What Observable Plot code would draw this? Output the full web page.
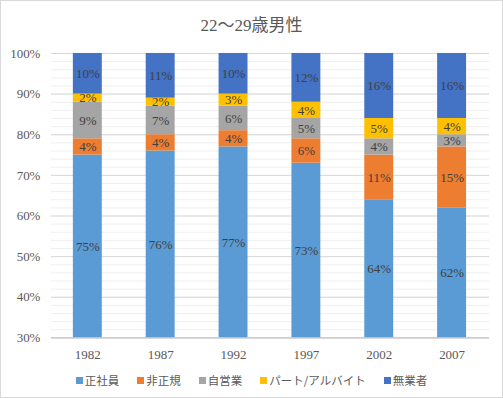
<!DOCTYPE html>
<html><head><meta charset="utf-8">
<script src="https://cdn.jsdelivr.net/npm/d3@7"></script>
<script src="https://cdn.jsdelivr.net/npm/@observablehq/plot@0.6"></script>
<style>
html,body{margin:0;padding:0;background:#fff;}
#frame{position:relative;width:501px;height:396px;border:1px solid #d9d9d9;background:#fff;overflow:hidden;}
#title{position:absolute;left:0;top:10px;width:501px;text-align:center;font-family:"Liberation Serif","Noto Sans CJK JP",serif;font-size:17px;color:#595959;}
#chart{position:absolute;left:-1px;top:39px;}
#legend{position:absolute;left:0;top:371px;width:501px;display:flex;justify-content:center;gap:18px;font-family:"Noto Sans CJK JP",sans-serif;font-size:11.5px;color:#595959;}
#legend span.item{display:flex;align-items:center;gap:2px;}
#legend span.sw{display:inline-block;width:7px;height:7px;}
</style></head>
<body><div id="frame"><div id="title">22〜29歳男性</div><div id="chart"></div><div id="legend"></div></div>
<script>
const years = ["1982","1987","1992","1997","2002","2007"];
const categories = ["正社員","非正規","自営業","パート/アルバイト","無業者"];
const seishain = [75,76,77,73,64,62];
const hiseiki  = [4,4,4,6,11,15];
const jieigyo  = [9,7,6,5,4,3];
const part     = [2,2,3,4,5,4];
const mugyo    = [10,11,10,12,16,16];
const yTicks = [30,40,50,60,70,80,90,100];
const colors = ["#5B9BD5","#ED7D31","#A5A5A5","#FFC000","#4472C4"];

const series = [seishain, hiseiki, jieigyo, part, mugyo];
const rows = [];
years.forEach((yr, i) => {
  let acc = 0;
  series.forEach((s, k) => {
    const y1 = acc, y2 = acc + s[i];
    acc = y2;
    rows.push({year: yr, cat: categories[k], v: s[i], y1, y2, ym: (Math.max(y1, 30) + y2) / 2});
  });
});
const minor = d3.range(30, 101, 2);

const chart = Plot.plot({
  width: 503, height: 326,
  marginTop: 13, marginBottom: 28, marginLeft: 51, marginRight: 13,
  style: {fontFamily: '"Liberation Serif","Noto Sans CJK JP",serif', fontSize: "13px", color: "#595959", background: "transparent"},
  x: {domain: years, paddingInner: 0.6, paddingOuter: 0.3, label: null},
  y: {domain: [30, 100], label: null},
  color: {domain: categories, range: colors},
  marks: [
    Plot.gridY(minor, {stroke: "#efefef", strokeOpacity: 1}),
    Plot.gridY(yTicks, {stroke: "#d9d9d9", strokeOpacity: 1}),
    Plot.barY(rows, {x: "year", y1: d => Math.max(d.y1, 30), y2: "y2", fill: "cat"}),
    Plot.ruleY([30], {stroke: "#bfbfbf"}),
    Plot.text(rows, {x: "year", y: "ym", text: d => d.v + "%", fill: "#404040", fontSize: 13}),
    Plot.axisY(yTicks, {tickSize: 0, tickPadding: 11, tickFormat: d => d + "%", fill: "#595959", fontSize: 13}),
    Plot.axisX({tickSize: 0, tickPadding: 12, fill: "#595959", fontSize: 13})
  ]
});
document.getElementById("chart").appendChild(chart);

const leg = document.getElementById("legend");
categories.forEach((c, k) => {
  const it = document.createElement("span"); it.className = "item";
  const sw = document.createElement("span"); sw.className = "sw"; sw.style.background = colors[k];
  const t = document.createElement("span"); t.textContent = c;
  it.appendChild(sw); it.appendChild(t); leg.appendChild(it);
});
</script></body></html>
